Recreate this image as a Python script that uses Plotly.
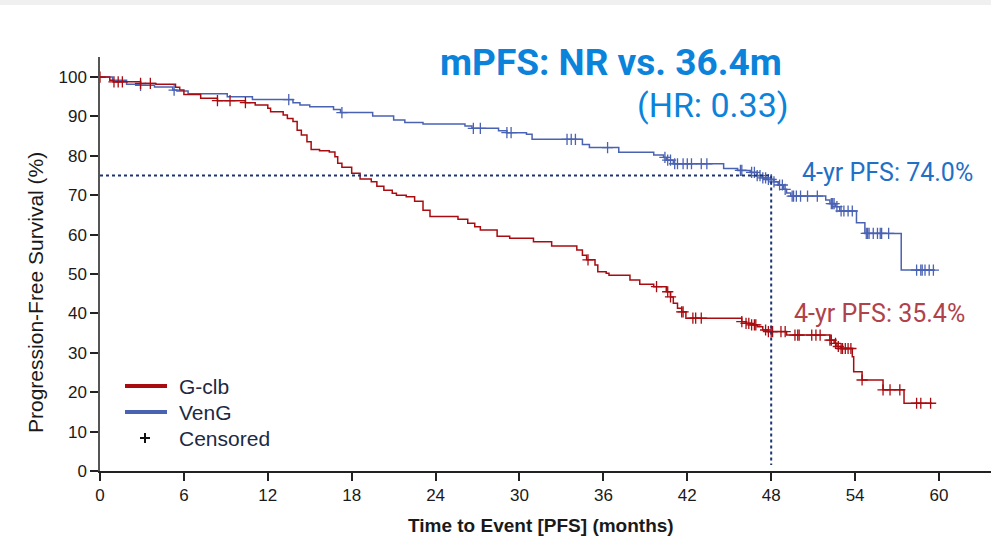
import plotly.graph_objects as go

# ---- Kaplan-Meier step data (time in months, survival in %) ----
veng_time = [0, 0.9, 1.9, 2.9, 3.9, 5.2, 5.5, 6.3, 9.1, 10.9, 13.8, 14.3, 15.0, 16.7, 17.2,
             19.5, 21.0, 21.8, 23.1, 26.1, 26.6, 28.5, 29.1, 30.5, 30.9, 34.5, 35.0, 37.1,
             39.6, 40.3, 40.5, 41.0, 44.6, 45.6, 46.5, 47.0, 47.4, 47.8, 48.2, 48.5, 48.9,
             49.1, 49.4, 51.9, 52.2, 52.6, 52.9, 54.1, 54.7, 57.3, 59.7]
veng_surv = [100, 99.2, 98.2, 97.9, 97.5, 96.7, 96.5, 95.8, 95.0, 94.3, 93.5, 92.9, 92.5, 91.8, 91.0,
             90.1, 89.1, 88.5, 88.1, 87.6, 87.0, 86.4, 85.9, 85.5, 84.2, 82.9, 82.1, 80.9,
             80.2, 79.6, 78.9, 78.0, 76.8, 76.3, 75.8, 75.0, 74.4, 74.0, 73.4, 72.6, 71.5,
             70.6, 69.8, 68.8, 67.9, 67.1, 66.0, 63.0, 60.3, 51.0, 51.0]

gclb_time = [0, 0.7, 0.95, 2.9, 4.0, 5.4, 5.7, 6.0, 7.2, 8.4, 10.4, 11.1, 12.0, 12.2, 13.1, 13.4,
             13.8, 14.1, 14.4, 14.8, 15.1, 15.7, 16.4, 16.8, 17.0, 17.3, 18.0, 18.6, 19.4, 19.8,
             20.3, 20.9, 21.2, 21.9, 22.5, 23.1, 23.6, 25.6, 26.3, 26.8, 27.2, 28.4, 29.3, 31.0,
             32.3, 34.1, 34.5, 34.8, 35.4, 35.6, 36.2, 36.4, 37.9, 38.6, 39.6, 40.5, 40.8, 41.0,
             41.3, 41.6, 41.9, 45.9, 46.2, 46.6, 47.0, 47.4, 47.8, 49.1, 52.2, 52.5, 52.7, 53.0,
             53.8, 53.9, 54.5, 56.0, 57.5, 59.5]
gclb_surv = [100, 99.2, 98.8, 98.4, 98.2, 97.4, 96.7, 95.6, 94.6, 94.0, 93.5, 92.9, 92.1, 91.2, 90.4, 89.5,
             88.7, 86.5, 85.3, 83.6, 81.6, 81.3, 81.0, 79.8, 78.1, 77.1, 75.6, 74.1, 73.4, 72.3,
             71.3, 70.5, 70.0, 69.6, 68.5, 66.2, 64.6, 63.9, 62.9, 62.0, 61.2, 59.6, 59.1, 58.2,
             57.1, 56.1, 54.8, 53.6, 52.3, 50.6, 50.2, 49.7, 48.5, 47.4, 46.8, 45.5, 44.2, 42.6,
             41.3, 40.4, 38.8, 37.9, 37.5, 37.1, 36.6, 35.8, 35.4, 34.5, 33.2, 32.4, 31.6, 31.1,
             29.0, 25.2, 23.1, 20.6, 17.2, 17.2]

# ---- censoring times (months) ----
veng_censor = [2.9, 5.3, 13.5, 17.3, 26.7, 27.2, 29.1, 29.4, 33.4, 33.7, 34.0, 36.3, 40.4, 40.6,
               40.8, 41.1, 41.3, 41.7, 42.0, 42.3, 43.0, 43.4, 45.8, 45.9, 46.6, 46.8, 47.0, 47.2,
               47.4, 47.6, 47.8, 48.0, 48.2, 48.6, 48.8, 49.0, 49.5, 49.6, 49.8, 50.1, 50.6, 51.3,
               52.3, 52.4, 52.5, 52.7, 53.0, 53.2, 53.5, 53.8, 54.8, 54.9, 55.0, 55.3, 55.6, 55.8,
               55.9, 56.4, 58.4, 58.7, 58.8, 59.0, 59.3, 59.6]
gclb_censor = [0.0, 1.0, 1.3, 1.6, 2.9, 3.6, 8.4, 9.3, 10.4, 34.9, 39.8, 40.6, 40.8, 41.6, 41.7,
               42.4, 42.6, 43.0, 45.9, 46.2, 46.4, 46.6, 46.8, 46.9, 47.6, 47.8, 48.0, 48.1, 48.7,
               49.0, 49.7, 49.9, 50.0, 50.9, 51.2, 51.5, 52.2, 52.3, 52.6, 52.8, 53.0, 53.1, 53.3,
               53.5, 53.7, 54.5, 56.0, 56.5, 57.2, 58.4, 58.7, 59.4]

# ---- landmark annotations ----
landmark_month = 48
landmark_level = 75
veng_4yr = 74.0
gclb_4yr = 35.4

x_ticks = [0, 6, 12, 18, 24, 30, 36, 42, 48, 54, 60]
y_ticks = [0, 10, 20, 30, 40, 50, 60, 70, 80, 90, 100]

RED = "#a80c10"
BLUE = "#4a62b2"
TXT_BLUE = "#0b83da"
SANS = "Liberation Sans, Arial, sans-serif"


def step_value(times, surv, t):
    """Survival at time t for a right-continuous step function."""
    val = surv[0]
    for tt, ss in zip(times, surv):
        if tt <= t:
            val = ss
        else:
            break
    return val


fig = go.Figure()

for times, surv, color in [(veng_time, veng_surv, BLUE), (gclb_time, gclb_surv, RED)]:
    fig.add_trace(go.Scatter(x=times, y=surv, mode="lines",
                             line=dict(color=color, width=1.5, shape="hv"),
                             showlegend=False, hoverinfo="skip"))

for times, surv, cens, color in [(veng_time, veng_surv, veng_censor, BLUE),
                                  (gclb_time, gclb_surv, gclb_censor, RED)]:
    fig.add_trace(go.Scatter(x=cens, y=[step_value(times, surv, c) for c in cens],
                             mode="markers",
                             marker=dict(symbol="cross-thin", size=8,
                                         line=dict(color=color, width=1.3)),
                             showlegend=False, hoverinfo="skip"))

# dotted landmark guides at 4 years
fig.add_trace(go.Scatter(x=[0, landmark_month], y=[landmark_level, landmark_level], mode="lines",
                         line=dict(color="#1c3472", width=2, dash="dot"),
                         showlegend=False, hoverinfo="skip"))
fig.add_trace(go.Scatter(x=[landmark_month, landmark_month], y=[landmark_level, 1.5], mode="lines",
                         line=dict(color="#1c3472", width=2, dash="dot"),
                         showlegend=False, hoverinfo="skip"))

# pixel helpers for the paper-space decorations
L, R, T, B = 100, 0, 57, 67
W, H = 991, 538
PW, PH = W - L - R, H - T - B


def px(x):
    return (x - L) / PW


def py(y):
    return (H - B - y) / PH


shapes = [
    # light band along the top of the page
    dict(type="rect", xref="paper", yref="paper", x0=px(0), x1=px(W), y0=py(5), y1=py(0),
         fillcolor="#f0f0f0", line=dict(width=0), layer="below"),
    # legend swatches
    dict(type="line", xref="paper", yref="paper", x0=px(125), x1=px(167), y0=py(386), y1=py(386),
         line=dict(color=RED, width=4)),
    dict(type="line", xref="paper", yref="paper", x0=px(125), x1=px(167), y0=py(412), y1=py(412),
         line=dict(color=BLUE, width=4)),
    dict(type="line", xref="paper", yref="paper", x0=px(140), x1=px(150), y0=py(438), y1=py(438),
         line=dict(color="#111111", width=2)),
    dict(type="line", xref="paper", yref="paper", x0=px(145), x1=px(145), y0=py(433), y1=py(443),
         line=dict(color="#111111", width=2)),
]

legend_font = dict(family=SANS, size=21, color="#1b2a44")
annotations = [
    dict(text="G-clb", x=px(177), y=py(386), xref="paper", yref="paper",
         xanchor="left", yanchor="middle", showarrow=False, font=legend_font),
    dict(text="VenG", x=px(177), y=py(412), xref="paper", yref="paper",
         xanchor="left", yanchor="middle", showarrow=False, font=legend_font),
    dict(text="Censored", x=px(177), y=py(438), xref="paper", yref="paper",
         xanchor="left", yanchor="middle", showarrow=False, font=legend_font),
    dict(text="<b>mPFS: NR vs. 36.4m</b>", x=px(611), y=py(62), xref="paper", yref="paper",
         xanchor="center", yanchor="middle", showarrow=False,
         font=dict(family="Roboto, sans-serif", size=37, color=TXT_BLUE)),
    dict(text="(HR: 0.33)", x=px(791), y=py(105), xref="paper", yref="paper",
         xanchor="right", yanchor="middle", showarrow=False,
         font=dict(family="Roboto, sans-serif", size=34, color=TXT_BLUE)),
    dict(text=f"4-yr PFS: {veng_4yr:.1f}%", x=px(800), y=py(172), xref="paper", yref="paper",
         xanchor="left", yanchor="middle", showarrow=False,
         font=dict(family="Roboto, sans-serif", size=25, color="#1f70c6")),
    dict(text=f"4-yr PFS: {gclb_4yr:.1f}%", x=px(792), y=py(313), xref="paper", yref="paper",
         xanchor="left", yanchor="middle", showarrow=False,
         font=dict(family="Roboto, sans-serif", size=25, color="#b0424a")),
    # y-axis title, placed to sit slightly below the plot's vertical centre
    dict(text="Progression-Free Survival (%)", x=px(35), y=py(293), xref="paper", yref="paper",
         xanchor="center", yanchor="middle", showarrow=False, textangle=-90,
         font=dict(family=SANS, size=21, color="#1a1a1a")),
    dict(text="<b>Time to Event [PFS] (months)</b>", x=px(541), y=py(525), xref="paper",
         yref="paper", xanchor="center", yanchor="middle", showarrow=False,
         font=dict(family=SANS, size=19, color="#1a1a1a")),
]

axis_font = dict(family=SANS, size=17, color="#1a1a1a")

fig.update_layout(
    width=W, height=H,
    margin=dict(l=L, r=R, t=T, b=B),
    paper_bgcolor="white", plot_bgcolor="white",
    shapes=shapes, annotations=annotations,
    xaxis=dict(range=[0, 63.72], tickvals=x_ticks, ticktext=[str(v) for v in x_ticks],
               showgrid=False, zeroline=False, showline=True, linecolor="#222222", linewidth=1.5,
               ticks="outside", ticklen=8, tickwidth=1.5, tickcolor="#222222",
               tickfont=axis_font),
    yaxis=dict(range=[0, 105.1], tickvals=y_ticks, ticktext=[str(v) for v in y_ticks],
               showgrid=False, zeroline=False, showline=True, linecolor="#555555", linewidth=1.5,
               ticks="outside", ticklen=8, tickwidth=1.5, tickcolor="#222222",
               tickfont=axis_font),
)

fig.write_html("out.html")
